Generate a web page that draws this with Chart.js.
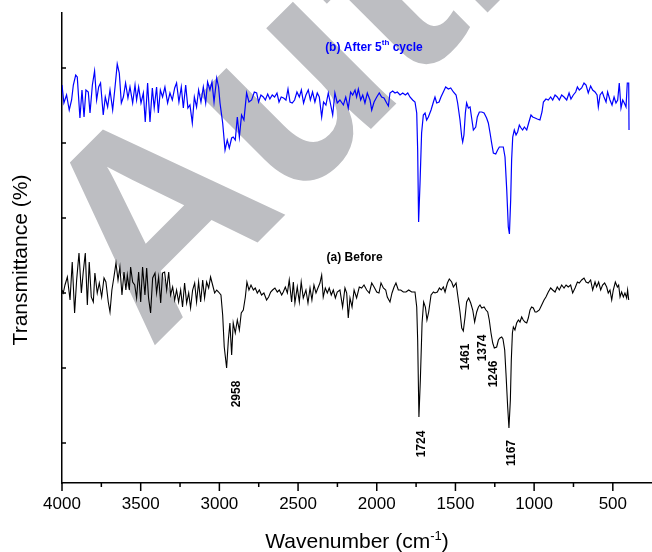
<!DOCTYPE html>
<html>
<head>
<meta charset="utf-8">
<style>
  html, body { margin: 0; padding: 0; background: #fff; }
  #wrap { width: 652px; height: 552px; }
</style>
</head>
<body>
<div id="wrap"><canvas id="ftir" width="652" height="552"></canvas></div>
<script src="https://cdn.jsdelivr.net/npm/chart.js@4.4.0/dist/chart.umd.min.js"></script>
<script>
// FTIR spectra, [wavenumber cm-1, transmittance (arb. units)]
const afterCycle = [
  [4000,358],[3988,340],[3971,348],[3954,333],[3939,343],[3928,358],[3913,368],[3903,366],[3886,325],[3873,353],
  [3860,326],[3848,353],[3833,351],[3822,330],[3807,358],[3793,372],[3780,343],[3767,356],[3755,360],[3738,328],
  [3725,346],[3710,336],[3695,353],[3678,333],[3663,356],[3649,379],[3636,370],[3623,340],[3610,346],[3596,360],
  [3581,345],[3568,356],[3551,340],[3536,358],[3526,343],[3513,356],[3498,340],[3483,350],[3471,321],[3456,360],
  [3441,321],[3426,355],[3414,335],[3399,356],[3388,330],[3375,353],[3361,346],[3346,356],[3329,340],[3314,350],
  [3299,343],[3284,355],[3272,360],[3257,341],[3242,356],[3229,335],[3214,358],[3200,335],[3187,338],[3172,320],
  [3159,346],[3145,336],[3132,353],[3117,341],[3102,356],[3087,340],[3075,361],[3060,353],[3047,361],[3034,341],
  [3017,365],[3005,356],[2996,340],[2979,320],[2964,293],[2950,303],[2937,295],[2922,305],[2912,306],[2899,303],
  [2886,326],[2873,306],[2859,328],[2844,323],[2827,350],[2812,341],[2795,343],[2778,351],[2763,350],[2751,341],
  [2736,348],[2721,346],[2708,343],[2693,349],[2679,344],[2664,348],[2649,346],[2634,350],[2621,341],[2607,346],
  [2592,345],[2577,343],[2564,354],[2551,341],[2537,340],[2522,343],[2507,351],[2492,346],[2479,353],[2465,340],
  [2450,348],[2435,353],[2422,343],[2408,351],[2393,341],[2378,350],[2365,346],[2350,326],[2338,341],[2323,338],
  [2308,350],[2295,340],[2280,328],[2266,350],[2251,340],[2234,343],[2212,338],[2197,346],[2181,335],[2166,351],
  [2153,348],[2138,353],[2128,346],[2117,354],[2102,343],[2089,348],[2075,340],[2060,350],[2043,343],[2032,333],
  [2017,341],[2000,346],[1984,350],[1969,346],[1954,345],[1937,340],[1926,337],[1916,350],[1899,352],[1884,350],
  [1869,351],[1852,348],[1835,350],[1818,348],[1803,350],[1789,346],[1772,343],[1757,341],[1746,330],[1740,293],
  [1734,221],[1725,260],[1715,310],[1704,328],[1693,330],[1683,323],[1672,326],[1655,333],[1640,341],[1630,346],
  [1619,340],[1604,341],[1592,346],[1577,351],[1562,356],[1545,354],[1530,355],[1513,351],[1496,348],[1486,340],
  [1471,323],[1460,306],[1454,301],[1446,308],[1437,330],[1429,340],[1418,335],[1407,336],[1397,325],[1386,313],
  [1371,316],[1361,326],[1348,331],[1333,331],[1318,330],[1302,325],[1291,320],[1280,310],[1270,300],[1259,290],
  [1244,289],[1232,293],[1221,296],[1208,296],[1196,296],[1185,286],[1174,253],[1164,216],[1157,209],[1149,243],
  [1143,283],[1136,306],[1126,313],[1115,308],[1105,311],[1094,318],[1083,315],[1073,313],[1062,316],[1047,313],
  [1033,321],[1020,328],[1009,326],[994,325],[980,324],[963,323],[950,331],[941,341],[925,344],[910,343],
  [895,346],[882,343],[867,348],[853,346],[840,343],[825,348],[810,346],[793,343],[778,350],[766,344],
  [751,348],[736,351],[725,356],[713,353],[698,355],[683,360],[670,358],[656,350],[641,357],[628,353],
  [613,351],[600,348],[592,336],[581,348],[567,351],[556,346],[543,341],[533,351],[518,343],[505,338],
  [492,346],[480,340],[469,343],[459,360],[448,335],[437,343],[427,340],[416,336],[408,360],[399,360],[397,313]
];

const before = [
  [4000,153],[3992,150],[3981,158],[3966,166],[3949,143],[3935,181],[3920,130],[3907,163],[3892,190],[3877,150],
  [3865,171],[3852,190],[3839,138],[3827,181],[3814,146],[3801,141],[3791,170],[3776,150],[3763,160],[3748,146],
  [3733,165],[3721,161],[3706,141],[3695,131],[3683,153],[3670,166],[3657,180],[3644,163],[3632,176],[3619,148],
  [3606,171],[3594,153],[3585,168],[3572,153],[3564,176],[3551,161],[3538,158],[3526,145],[3513,171],[3500,141],
  [3488,176],[3473,148],[3462,175],[3450,145],[3437,130],[3424,165],[3409,170],[3399,150],[3386,166],[3373,140],
  [3361,170],[3348,171],[3335,153],[3322,171],[3310,148],[3297,156],[3284,143],[3272,153],[3259,141],[3246,153],
  [3234,136],[3221,160],[3208,140],[3195,150],[3183,135],[3170,153],[3157,160],[3145,141],[3132,161],[3119,141],
  [3106,163],[3094,145],[3081,161],[3068,155],[3056,166],[3043,158],[3030,150],[3017,153],[3005,151],[2990,148],
  [2979,128],[2969,96],[2954,75],[2943,103],[2933,120],[2922,88],[2912,120],[2899,110],[2886,123],[2873,113],
  [2861,130],[2848,133],[2835,146],[2825,161],[2812,153],[2799,158],[2784,153],[2772,155],[2759,150],[2746,153],
  [2732,148],[2717,150],[2700,143],[2687,146],[2674,151],[2662,153],[2647,155],[2632,151],[2619,153],[2604,148],
  [2594,151],[2581,156],[2568,150],[2556,163],[2541,141],[2530,161],[2520,140],[2505,156],[2492,141],[2480,161],
  [2467,145],[2450,153],[2437,140],[2424,155],[2412,143],[2399,158],[2386,150],[2374,155],[2361,160],[2350,168],
  [2340,146],[2327,155],[2314,150],[2302,155],[2289,148],[2276,153],[2263,145],[2251,151],[2234,153],[2217,136],
  [2202,155],[2191,150],[2181,125],[2170,145],[2157,136],[2144,153],[2128,145],[2111,156],[2096,155],[2081,158],
  [2064,153],[2047,150],[2032,160],[2017,156],[2000,151],[1986,150],[1973,160],[1958,155],[1943,153],[1933,146],
  [1916,141],[1903,150],[1890,156],[1878,160],[1863,153],[1848,153],[1831,151],[1814,151],[1797,153],[1778,151],
  [1757,151],[1746,136],[1740,103],[1732,26],[1723,63],[1712,120],[1702,141],[1691,136],[1681,123],[1670,131],
  [1655,148],[1640,151],[1630,150],[1615,151],[1602,155],[1590,153],[1577,156],[1566,151],[1551,160],[1539,164],
  [1524,161],[1513,156],[1496,160],[1484,146],[1471,131],[1460,115],[1450,112],[1439,126],[1429,141],[1416,145],
  [1403,140],[1390,133],[1378,121],[1365,131],[1354,136],[1344,138],[1333,135],[1318,136],[1306,133],[1295,131],
  [1285,123],[1274,110],[1263,100],[1253,95],[1238,96],[1227,103],[1217,105],[1206,106],[1198,104],[1187,93],
  [1179,70],[1168,36],[1160,15],[1151,43],[1145,83],[1138,110],[1132,116],[1122,113],[1111,120],[1100,123],
  [1090,121],[1079,126],[1069,123],[1058,121],[1047,120],[1037,125],[1026,133],[1016,136],[1005,135],[994,131],
  [984,131],[967,133],[952,138],[937,143],[925,146],[910,151],[895,155],[882,153],[867,151],[853,156],
  [840,153],[825,158],[810,155],[797,158],[783,156],[768,158],[755,150],[740,155],[725,161],[713,160],
  [698,163],[683,165],[670,161],[656,160],[641,163],[628,153],[613,161],[603,156],[590,161],[577,153],
  [565,158],[552,160],[539,156],[529,150],[518,153],[507,143],[497,153],[484,161],[471,156],[463,158],
  [454,146],[444,151],[433,146],[423,150],[412,145],[406,153],[399,143]
];

const xMajorTicks = [4000, 3500, 3000, 2500, 2000, 1500, 1000, 500];
const xMinorTicks = [3750, 3250, 2750, 2250, 1750, 1250, 750];
const yTicks = [0, 75, 150, 225, 300, 375];

// peak labels and where they sit (wavenumber, transmittance)
const peakLabels = ['2958', '1724', '1461', '1374', '1246', '1167'];
const peakLabelAt = [[2891, 49], [1713, -1], [1433, 86], [1325, 95], [1255, 69], [1141, -10]];

const FONT = 'Arial, "Liberation Sans", sans-serif';

const watermark = {
  id: 'watermark',
  beforeDraw(chart) {
    const ctx = chart.ctx;
    ctx.save();
    ctx.translate(150, 350);
    ctx.rotate(-Math.PI / 4);
    ctx.font = 'bold 275px ' + FONT;
    ctx.fillStyle = 'rgb(189,190,194)';
    ctx.textBaseline = 'alphabetic';
    ctx.fillText('Author Manuscript', 0, 0);
    ctx.restore();
  }
};

const decorations = {
  id: 'decorations',
  afterDraw(chart) {
    const ctx = chart.ctx;
    const xs = chart.scales.x, ys = chart.scales.y;
    ctx.save();
    ctx.strokeStyle = '#000';
    ctx.lineWidth = 1.5;
    ctx.beginPath();
    xMajorTicks.forEach(v => {
      const px = xs.getPixelForValue(v);
      ctx.moveTo(px, xs.top); ctx.lineTo(px, xs.top + 8);
    });
    xMinorTicks.forEach(v => {
      const px = xs.getPixelForValue(v);
      ctx.moveTo(px, xs.top); ctx.lineTo(px, xs.top + 4);
    });
    yTicks.forEach(v => {
      const py = ys.getPixelForValue(v);
      ctx.moveTo(ys.right, py); ctx.lineTo(ys.right + 4, py);
    });
    ctx.stroke();

    // peak labels
    ctx.fillStyle = '#000';
    ctx.font = 'bold 12px ' + FONT;
    ctx.textAlign = 'center';
    ctx.textBaseline = 'middle';
    peakLabels.forEach((t, i) => {
      const px = xs.getPixelForValue(peakLabelAt[i][0]);
      const py = ys.getPixelForValue(peakLabelAt[i][1]);
      ctx.save();
      ctx.translate(px, py);
      ctx.rotate(-Math.PI / 2);
      ctx.fillText(t, 0, 0);
      ctx.restore();
    });

    // series labels
    ctx.fillText('(a) Before', xs.getPixelForValue(2141), ys.getPixelForValue(185));
    ctx.fillStyle = '#0000ff';
    const parts = [['(b) After 5', 'bold 12px ', 0], ['th', 'bold 8px ', -5], [' cycle', 'bold 12px ', 0]];
    let total = 0;
    parts.forEach(p => { ctx.font = p[1] + FONT; total += ctx.measureText(p[0]).width; });
    let bx = xs.getPixelForValue(2018) - total / 2;
    const by = ys.getPixelForValue(395);
    ctx.textAlign = 'left';
    parts.forEach(p => {
      ctx.font = p[1] + FONT;
      ctx.fillText(p[0], bx, by + p[2]);
      bx += ctx.measureText(p[0]).width;
    });

    // axis titles
    ctx.fillStyle = '#000';
    ctx.textBaseline = 'alphabetic';
    const t1 = 'Wavenumber (cm', sup = '-1', t2 = ')';
    ctx.font = '21px ' + FONT;
    const w1 = ctx.measureText(t1).width, w3 = ctx.measureText(t2).width;
    ctx.font = '13px ' + FONT;
    const w2 = ctx.measureText(sup).width;
    let tx = (xs.left + xs.right) / 2 - (w1 + w2 + w3) / 2;
    ctx.font = '21px ' + FONT;
    ctx.fillText(t1, tx, 548);
    tx += w1;
    ctx.font = '13px ' + FONT;
    ctx.fillText(sup, tx, 540);
    tx += w2;
    ctx.font = '21px ' + FONT;
    ctx.fillText(t2, tx, 548);

    ctx.save();
    ctx.translate(21, 260);
    ctx.rotate(-Math.PI / 2);
    ctx.textAlign = 'center';
    ctx.textBaseline = 'middle';
    ctx.fillText('Transmittance (%)', 0, 0);
    ctx.restore();
    ctx.restore();
  }
};

new Chart(document.getElementById('ftir'), {
  type: 'line',
  data: {
    datasets: [
      {
        label: '(b) After 5th cycle',
        data: afterCycle.map(p => ({ x: p[0], y: p[1] })),
        borderColor: '#0000ff',
        borderWidth: 1.2,
        pointRadius: 0,
        tension: 0
      },
      {
        label: '(a) Before',
        data: before.map(p => ({ x: p[0], y: p[1] })),
        borderColor: '#000000',
        borderWidth: 1.1,
        pointRadius: 0,
        tension: 0
      }
    ]
  },
  options: {
    responsive: false,
    animation: false,
    devicePixelRatio: 1,
    layout: { padding: { top: 13, left: 0, right: 0, bottom: 0 } },
    plugins: { legend: { display: false }, tooltip: { enabled: false } },
    scales: {
      x: {
        type: 'linear',
        reverse: true,
        min: 251,
        max: 4000,
        afterBuildTicks: s => { s.ticks = xMajorTicks.map(v => ({ value: v })); },
        afterFit: s => { s.height = 69; },
        grid: { display: false, tickLength: 8 },
        border: { display: true, color: '#000', width: 1.5 },
        ticks: {
          color: '#000',
          padding: 3,
          maxRotation: 0,
          autoSkip: false,
          font: { family: FONT, size: 17 },
          callback: v => String(v)
        }
      },
      y: {
        type: 'linear',
        min: -40,
        max: 430,
        afterBuildTicks: s => { s.ticks = yTicks.map(v => ({ value: v })); },
        afterFit: s => { s.width = 62; },
        grid: { display: false },
        border: { display: true, color: '#000', width: 1.5 },
        ticks: { display: false }
      }
    }
  },
  plugins: [watermark, decorations]
});
</script>
</body>
</html>
